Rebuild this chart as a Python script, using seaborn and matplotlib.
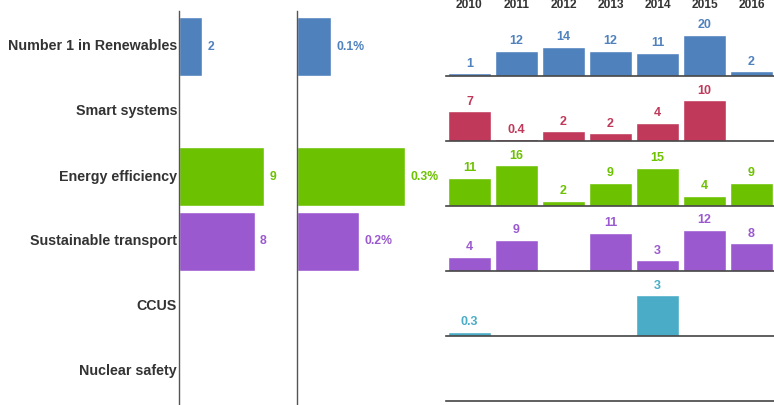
import numpy as np
import pandas as pd

import matplotlib
matplotlib.use('Agg')
import matplotlib.pyplot as plt
import seaborn as sns

# data
categories = ["Number 1 in Renewables", "Smart systems", "Energy efficiency",
              "Sustainable transport", "CCUS", "Nuclear safety"]
colors = ["#4f81bd", "#c0395a", "#6cc100", "#9b59cf", "#4aacc6", "#888888"]
total_values = [2.4, 0, 9.0, 8.0, 0, 0]
total_labels = ["2", "", "9", "8", "", ""]
share_values = [0.095, 0, 0.30, 0.172, 0, 0]
share_labels = ["0.1%", "", "0.3%", "0.2%", "", ""]
years = [2010, 2011, 2012, 2013, 2014, 2015, 2016]
renewables = [1, 12, 14, 12, 11, 20, 2]
smart = [7.3, 0.4, 2.4, 1.9, 4.4, 10, np.nan]
efficiency = [11, 16, 2, 9, 15, 4, 9]
transport = [4, 9, np.nan, 11, 3, 12, 8]
ccus = [0.3, np.nan, np.nan, np.nan, 3, np.nan, np.nan]
nuclear = [np.nan] * 7
yearly = [renewables, smart, efficiency, transport, ccus, nuclear]

sns.set_style("white")
plt.rcParams['font.family'] = ['Liberation Sans', 'DejaVu Sans']

W, H = 774, 405
fig = plt.figure(figsize=(W / 100, H / 100), dpi=100)


def px_axes(x, y, w, h):
    return fig.add_axes([x / W, 1 - (y + h) / H, w / W, h / H])


text_col = "#333333"
row_top, row_bottom = 11, 405
row_step = 65
first_center = 46.5

# category labels
for i, cat in enumerate(categories):
    yc = first_center + row_step * i
    fig.text(177 / W, 1 - yc / H, cat, ha='right', va='center',
             fontsize=10.3, fontweight='bold', color=text_col)


def side_panel(x, w, values, labels, xmax):
    ax = px_axes(x, row_top, w, row_bottom - row_top)
    df = pd.DataFrame({"cat": categories, "val": values})
    sns.barplot(data=df, x="val", y="cat", hue="cat", palette=colors,
                orient='h', width=0.9, legend=False, ax=ax, saturation=1)
    ax.set_xlim(0, xmax)
    top = -(first_center - row_top) / row_step
    bottom = top + (row_bottom - row_top) / row_step
    ax.set_ylim(bottom, top)
    for s in ["top", "right", "bottom"]:
        ax.spines[s].set_visible(False)
    ax.spines["left"].set_color("#555555")
    ax.spines["left"].set_linewidth(1)
    ax.set_xticks([])
    ax.set_yticks([])
    ax.set_xlabel("")
    ax.set_ylabel("")
    for i, (v, lab) in enumerate(zip(values, labels)):
        if lab:
            ax.annotate(lab, (v, i), xytext=(4, 0), textcoords='offset points',
                        ha='left', va='center', fontsize=8.8,
                        fontweight='bold', color=colors[i])


side_panel(179, 115, total_values, total_labels, 115 / 9.44)
side_panel(297, 140, share_values, share_labels, 140 / 360)

# small multiples per category and year
baselines = [75.5, 141, 206, 270.5, 336, 400.5]
for i, vals in enumerate(yearly):
    ax = px_axes(446, baselines[i] - 60, 329, 60)
    df = pd.DataFrame({"year": [str(y) for y in years], "val": vals})
    sns.barplot(data=df, x="year", y="val", color=colors[i], width=0.915,
                ax=ax, saturation=1)
    vmax = np.nanmax(vals) if not np.all(np.isnan(vals)) else 1
    ax.set_ylim(0, vmax * 60 / 41)
    ax.set_xlim(-0.5, 6.5)
    for s in ["top", "right", "left"]:
        ax.spines[s].set_visible(False)
    ax.spines["bottom"].set_color("#444444")
    ax.spines["bottom"].set_linewidth(1.2)
    ax.set_xticks([])
    ax.set_yticks([])
    ax.set_xlabel("")
    ax.set_ylabel("")
    for j, v in enumerate(vals):
        if np.isnan(v):
            continue
        lab = f"{v:.1f}" if v < 1 else f"{v:.0f}"
        ax.annotate(lab, (j, v), xytext=(0, 2.5), textcoords='offset points',
                    ha='center', va='bottom', fontsize=9,
                    fontweight='bold', color=colors[i])

# year headers
for j, yr in enumerate(years):
    xc = 469.5 + 47 * j
    fig.text(xc / W, 1 - 5 / H, str(yr), ha='center', va='center',
             fontsize=8.6, fontweight='bold', color=text_col)

plt.savefig("out.png", dpi=100)
plt.close()
